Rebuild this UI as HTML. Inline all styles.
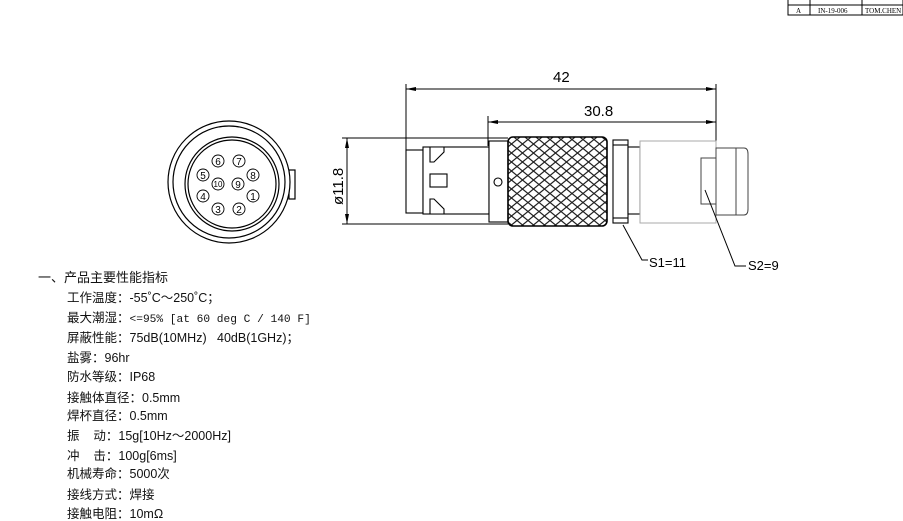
<!DOCTYPE html>
<html><head><meta charset="utf-8"><style>
body{margin:0;background:#fff;width:903px;height:513px;overflow:hidden;position:relative;font-family:"Liberation Sans","Noto Sans CJK SC",sans-serif}
.t{position:absolute;font-size:12.5px;color:#111;white-space:pre;line-height:1}
.m{font-family:"Liberation Mono",monospace;font-size:11.2px}
</style></head><body>
<svg width="903" height="513" style="position:absolute;left:0;top:0" xmlns="http://www.w3.org/2000/svg">
<g stroke="#000" fill="none" stroke-width="1">
<rect x="788" y="-1" width="115" height="16"/>
<line x1="788" y1="5" x2="903" y2="5"/>
<line x1="810" y1="-1" x2="810" y2="15"/><line x1="862" y1="-1" x2="862" y2="15"/>
</g>
<g font-family="Liberation Serif,serif" font-size="7" fill="#000">
<text x="796" y="13">A</text><text x="818" y="13">IN-19-006</text><text x="865" y="13">TOM.CHEN</text>
</g>
<g stroke="#000" fill="none" stroke-width="1.2">
<rect x="289" y="170" width="6" height="29" fill="#fff"/>
<circle cx="229" cy="182" r="61" fill="#fff"/>
<circle cx="229" cy="182" r="56"/>
<circle cx="232" cy="184" r="47"/>
<circle cx="232" cy="184" r="44"/>
</g>
<g stroke="#000" fill="none" stroke-width="0.9">
<circle cx="218" cy="161" r="6"/><circle cx="239" cy="161" r="6"/>
<circle cx="203" cy="175" r="6"/><circle cx="253" cy="175" r="6"/>
<circle cx="218" cy="184" r="6"/><circle cx="238" cy="184" r="6"/>
<circle cx="203" cy="196" r="6"/><circle cx="253" cy="196" r="6"/>
<circle cx="218" cy="209" r="6"/><circle cx="239" cy="209" r="6"/>
</g>
<g font-family="Liberation Sans,sans-serif" font-size="10" fill="#000" text-anchor="middle">
<text x="218" y="165">6</text><text x="239" y="165">7</text>
<text x="203" y="179">5</text><text x="253" y="179">8</text>
<text x="218" y="187" font-size="8">10</text><text x="238" y="188">9</text>
<text x="203" y="200">4</text><text x="253" y="200">1</text>
<text x="218" y="213">3</text><text x="239" y="213">2</text>
</g>
<g stroke="#000" stroke-width="1" fill="none">
<line x1="406" y1="84" x2="406" y2="150"/>
<line x1="716" y1="84" x2="716" y2="141"/>
<line x1="488" y1="116" x2="488" y2="146"/>
<line x1="406" y1="89" x2="716" y2="89"/>
<line x1="488" y1="122" x2="716" y2="122"/>
<line x1="342" y1="138" x2="508" y2="138"/>
<line x1="342" y1="224" x2="508" y2="224"/>
<line x1="347" y1="138" x2="347" y2="224"/>
</g>
<g fill="#000">
<path d="M406 89 l10 -2 v4z"/><path d="M716 89 l-10 -2 v4z"/>
<path d="M488 122 l10 -2 v4z"/><path d="M716 122 l-10 -2 v4z"/>
<path d="M347 138 l-2 10 h4z"/><path d="M347 224 l-2 -10 h4z"/>
</g>
<g font-family="Liberation Sans,sans-serif" font-size="15" fill="#000">
<text x="553" y="82">42</text><text x="584" y="116">30.8</text>
<text transform="translate(343,205) rotate(-90)">ø11.8</text>
<text x="649" y="267" font-size="13">S1=11</text>
<text x="748" y="270" font-size="13">S2=9</text>
</g>
<g stroke="#000" stroke-width="1.1" fill="#fff">
<rect x="406" y="150" width="17" height="63"/>
<rect x="423" y="147" width="66" height="67"/>
<path d="M430 147 h14 v5 l-10 10 h-4z M430 214 h14 v-5 l-10 -10 h-4z" fill="#fff"/>
<rect x="430" y="174" width="17" height="13"/>
<rect x="489" y="141" width="19" height="81"/>
<circle cx="498" cy="182" r="4"/>
</g>
<defs><pattern id="kn" width="11" height="9" patternUnits="userSpaceOnUse">
<path d="M0 4.5 L5.5 0 L11 4.5 L5.5 9Z" fill="none" stroke="#222" stroke-width="1.2"/>
</pattern></defs>
<rect x="508" y="137" width="99" height="89" rx="5" fill="url(#kn)" stroke="#000" stroke-width="1.6"/>
<g stroke="#000" stroke-width="1.1" fill="#fff">
<rect x="613" y="140" width="15" height="83"/>
<line x1="613" y1="145" x2="628" y2="145"/><line x1="613" y1="218" x2="628" y2="218"/>
<rect x="628" y="147" width="12" height="67"/>
</g>
<g stroke="#aaa" stroke-width="1" fill="#fff">
<rect x="640" y="141" width="76" height="82"/>
</g>
<g stroke="#444" stroke-width="1" fill="#fff">
<path d="M716 148 h28 q4 0 4 6 v55 q0 6 -4 6 h-28z"/>
<line x1="736" y1="148" x2="736" y2="215"/>
<rect x="701" y="158" width="15" height="46"/>
</g>
<g stroke="#000" stroke-width="1" fill="none">
<path d="M623 225 L642 260 H648"/>
<path d="M705 190 L735 266 H746"/>
</g>
</svg>
<div class="t" style="left:38px;top:271px;font-size:13px">一、产品主要性能指标</div>
<div class="t" style="left:67px;top:292px">工作温度：-55˚C～250˚C；</div>
<div class="t" style="left:67px;top:312px">最大潮湿：<span class="m">&lt;=95% [at 60 deg C / 140 F]</span></div>
<div class="t" style="left:67px;top:332px">屏蔽性能：75dB(10MHz)   40dB(1GHz)；</div>
<div class="t" style="left:67px;top:352px">盐雾：96hr</div>
<div class="t" style="left:67px;top:371px">防水等级：IP68</div>
<div class="t" style="left:67px;top:392px">接触体直径：0.5mm</div>
<div class="t" style="left:67px;top:410px">焊杯直径：0.5mm</div>
<div class="t" style="left:67px;top:430px">振    动：15g[10Hz～2000Hz]</div>
<div class="t" style="left:67px;top:450px">冲    击：100g[6ms]</div>
<div class="t" style="left:67px;top:468px">机械寿命：5000次</div>
<div class="t" style="left:67px;top:489px">接线方式：焊接</div>
<div class="t" style="left:67px;top:508px">接触电阻：10mΩ</div>
</body></html>
